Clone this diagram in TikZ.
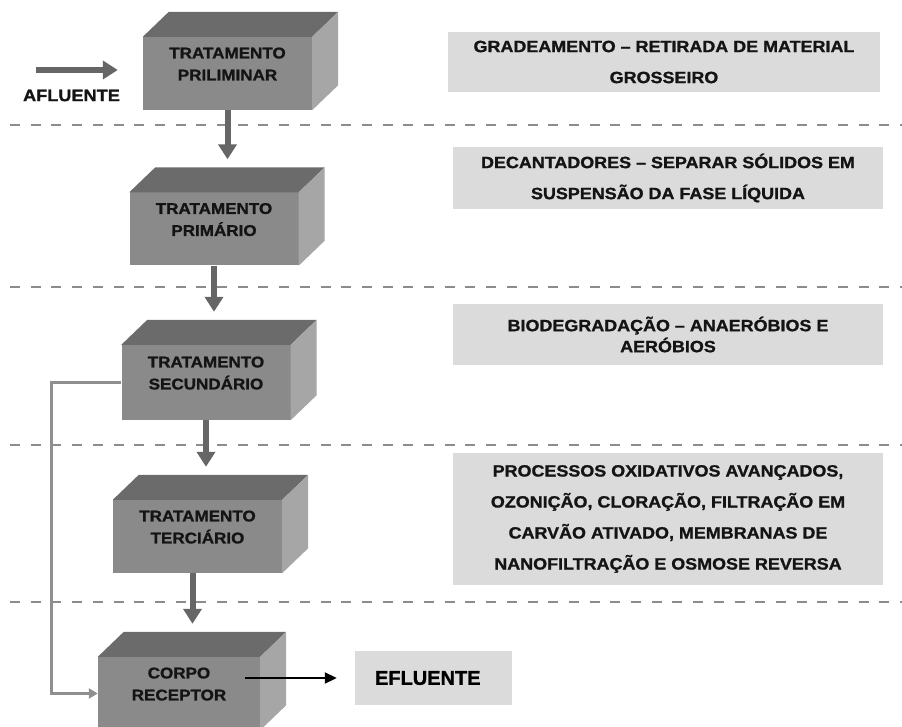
\documentclass[tikz,border=0pt]{standalone}
\usepackage{fontspec}
\setmainfont{Liberation Sans}[FakeStretch=1.1, BoldFeatures={FakeBold=1.2}]
\newfontfamily\plana{Liberation Sans}[BoldFeatures={FakeBold=1.2}]
\usetikzlibrary{arrows.meta,calc}

\definecolor{frente}{gray}{0.54}
\definecolor{topo}{gray}{0.42}
\definecolor{lado}{gray}{0.65}
\definecolor{fundo}{gray}{0.86}
\definecolor{cinzatrac}{gray}{0.55}
\definecolor{cinzaseta}{gray}{0.40}
\definecolor{cinzadesvio}{gray}{0.56}

\begin{document}
\begin{tikzpicture}[x=1pt, y=-1pt,
    caixa/.style={fill=frente, minimum width=169pt, minimum height=73pt, inner sep=0pt,
      align=center, text=black!92, font=\bfseries\fontsize{15.5}{22}\selectfont, text depth=19pt},
    nota/.style={fill=fundo, minimum width=430pt, inner sep=0pt, align=center, text=black!92,
      font=\bfseries\fontsize{16.3}{31}\selectfont},
    fluxo/.style={draw=cinzaseta, line width=6pt, -{Triangle[length=15pt, width=18pt]}},
    desvio/.style={draw=cinzadesvio, line width=3pt, -{Triangle[length=9pt, width=10pt]}},
    saida/.style={draw=black, line width=2pt, -{Triangle[length=12pt, width=11pt]}},
    tracejado/.style={draw=cinzatrac, line width=2.5pt, dash pattern=on 10pt off 10.7pt}]
      \useasboundingbox (0,0) rectangle (902,727);
      \clip (0,0) rectangle (902,727);

      % Linhas tracejadas
      \foreach \y in {125,287,445,602}
        \draw[tracejado] (10,\y) -- (902,\y);

      % Etapas
      \node[caixa] (t1) at (227.5,73.5) {TRATAMENTO\\PRILIMINAR};
      \node[caixa] (t2) at (214,229) {TRATAMENTO\\PRIMÁRIO};
      \node[caixa, minimum height=75pt] (t3) at (206,382.5) {TRATAMENTO\\SECUNDÁRIO};
      \node[caixa] (t4) at (197.5,536.5) {TRATAMENTO\\TERCIÁRIO};
      \node[caixa, minimum width=162pt] (t5) at (179,693.5) {CORPO\\RECEPTOR};
      \foreach \n in {t1,t2,t3,t4,t5} {
        \fill[topo] (\n.north west) -- ++(26,-25) -- ([shift={(26,-25)}]\n.north east) -- (\n.north east) -- cycle;
        \fill[lado] (\n.north east) -- ++(26,-25) -- ([shift={(26,-25)}]\n.south east) -- (\n.south east) -- cycle;
      }

      % Descricoes
      \node[nota, minimum width=432pt, minimum height=60pt] (n1) at (664,62) {GRADEAMENTO – RETIRADA DE MATERIAL\\GROSSEIRO};
      \node[nota, minimum height=62pt] (n2) at (668,178) {DECANTADORES – SEPARAR SÓLIDOS EM\\SUSPENSÃO DA FASE LÍQUIDA};
      \node[nota, minimum height=61pt, font=\bfseries\fontsize{16.3}{21}\selectfont] (n3) at (668,334.5) {BIODEGRADAÇÃO – ANAERÓBIOS E\\AERÓBIOS};
      \node[nota, minimum height=132pt] (n4) at (668,519) {PROCESSOS OXIDATIVOS AVANÇADOS,\\OZONIÇÃO, CLORAÇÃO, FILTRAÇÃO EM\\CARVÃO ATIVADO, MEMBRANAS DE\\NANOFILTRAÇÃO E OSMOSE REVERSA};

      % Entrada e saida
      \node[text=black!92, font=\bfseries\fontsize{16.5}{20}\selectfont] (afl) at (71.5,95.5) {AFLUENTE};
      \coordinate (entrada) at (36,70);
      \node[fill=fundo, minimum height=54pt, inner xsep=20pt, text width=117pt, align=left,
        font=\plana\bfseries\fontsize{20}{24}\selectfont] (ef) at (433.5,678) {EFLUENTE};

      % Setas
      \draw[fluxo, shorten >=25pt] (entrada) -- (entrada -| t1.west);
      \draw[fluxo, shorten >=33pt] (t1.south) -- (t1.south |- t2.north);
      \draw[fluxo, shorten >=33pt] (t2.south) -- (t2.south |- t3.north);
      \draw[fluxo, shorten >=33pt] (t3.south) -- (t3.south |- t4.north);
      \draw[fluxo, shorten >=33pt] ([xshift=-5pt]t4.south) -- ([xshift=-5pt]t4.south |- t5.north);
      \draw[desvio] (t3.west) -- ++(-70,0) |- (t5.west);
      \draw[saida, shorten >=18pt] ($(t5.east |- ef.west)+(-15,0)$) -- (ef.west);
\end{tikzpicture}
\end{document}
